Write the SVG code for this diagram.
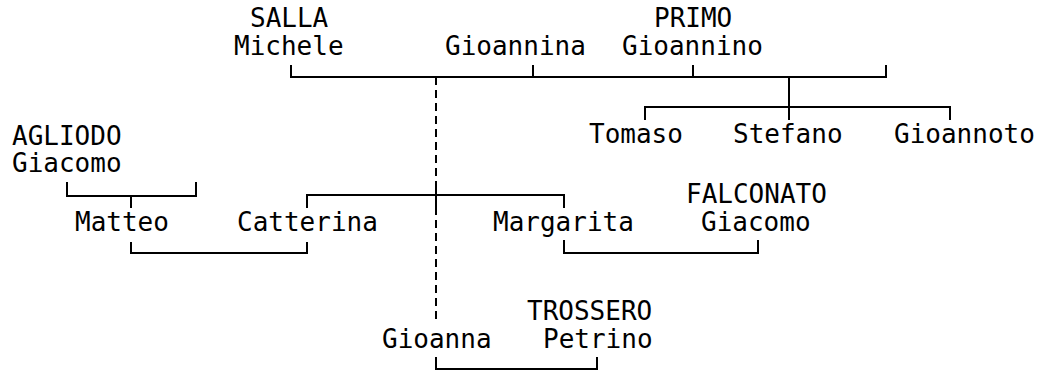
<svg xmlns="http://www.w3.org/2000/svg" width="1039" height="374" viewBox="0 0 1039 374">
<style>
text{font-family:"DejaVu Sans Mono","Liberation Mono",monospace;font-size:26px;fill:#000}
.c{fill:none;stroke:#000;stroke-width:2}
.d{fill:none;stroke:#000;stroke-width:2;stroke-dasharray:8 5}
</style>
<rect width="1039" height="374" fill="#fff"/>
<g id="connectors">
<path class="c" d="M291,65V77H886V65M533,65V77M693,65V77"/>
<path class="d" d="M436,77V324"/>
<path class="c" d="M436,183V208"/>
<path class="c" d="M789,77V120M645,120V107H950V120"/>
<path class="c" d="M67,182V196H196V182M131,196V208"/>
<path class="c" d="M131,242V253H307V242"/>
<path class="c" d="M307,208V195H564V208"/>
<path class="c" d="M564,240V253H758V240"/>
<path class="c" d="M436,357V369H597V357"/>
</g>
<g id="salla-michele"><text x="250" y="27">SALLA</text><text x="234" y="55">Michele</text></g>
<g id="gioannina"><text x="445" y="55">Gioannina</text></g>
<g id="primo-gioannino"><text x="654" y="27">PRIMO</text><text x="622" y="55">Gioannino</text></g>
<g id="tomaso"><text x="589" y="143">Tomaso</text></g>
<g id="stefano"><text x="733" y="143">Stefano</text></g>
<g id="gioannoto"><text x="894" y="143">Gioannoto</text></g>
<g id="agliodo-giacomo"><text x="12" y="145">AGLIODO</text><text x="12" y="172">Giacomo</text></g>
<g id="matteo"><text x="75" y="231">Matteo</text></g>
<g id="catterina"><text x="237" y="231">Catterina</text></g>
<g id="margarita"><text x="493" y="231">Margarita</text></g>
<g id="falconato-giacomo"><text x="686" y="203">FALCONATO</text><text x="701" y="231">Giacomo</text></g>
<g id="gioanna"><text x="382" y="348">Gioanna</text></g>
<g id="trossero-petrino"><text x="527" y="320">TROSSERO</text><text x="543" y="348">Petrino</text></g>
</svg>
